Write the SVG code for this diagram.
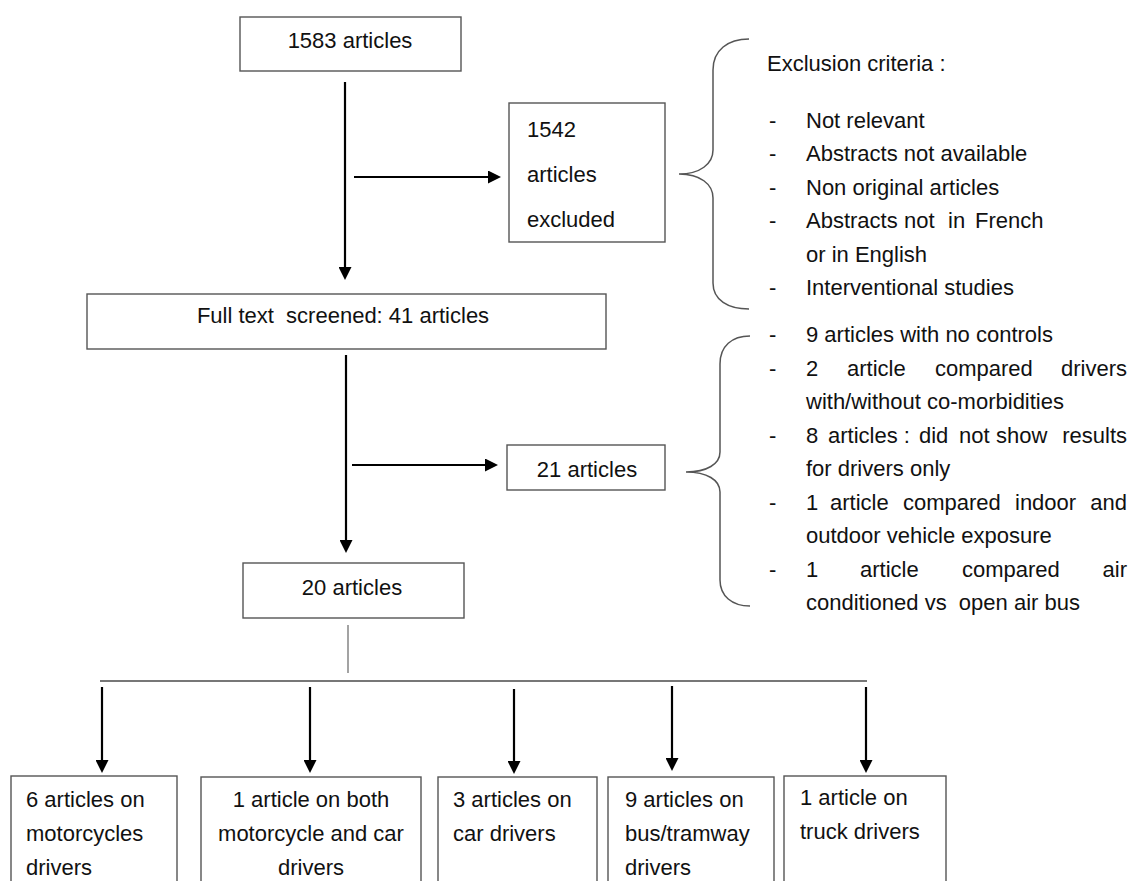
<svg xmlns="http://www.w3.org/2000/svg" width="1131" height="881" viewBox="0 0 1131 881">
<style>
text{font-family:"Liberation Sans",Arial,sans-serif;font-size:22px;fill:#111;white-space:pre}
.box{fill:#fff;stroke:#555;stroke-width:1.4}
.arr{stroke:#000;stroke-width:2.2;fill:none}
.thin{stroke:#666;stroke-width:1.2;fill:none}
.bus{stroke:#777;stroke-width:2;fill:none}
.brace{stroke:#555;stroke-width:1.5;fill:none}
.c{text-anchor:middle}
.e{text-anchor:end}
</style>
<defs>
<marker id="ah" markerUnits="userSpaceOnUse" markerWidth="13" markerHeight="13" refX="0" refY="6.5" orient="auto">
<path d="M0,0 L13,6.5 L0,13 z" fill="#000"/>
</marker>
</defs>
<rect width="1131" height="881" fill="#fff"/>
<g id="connectors">
<line class="arr" x1="345" y1="82" x2="345" y2="267" marker-end="url(#ah)"/>
<line class="arr" x1="354" y1="177" x2="488" y2="177" marker-end="url(#ah)"/>
<line class="arr" x1="346" y1="355" x2="346" y2="540" marker-end="url(#ah)"/>
<line class="arr" x1="352" y1="465" x2="485" y2="465" marker-end="url(#ah)"/>
<line class="thin" x1="348" y1="625" x2="348" y2="673"/>
<line class="bus" x1="100" y1="681" x2="867" y2="681"/>
<line class="arr" x1="102" y1="687" x2="102" y2="760" marker-end="url(#ah)"/>
<line class="arr" x1="310" y1="687" x2="310" y2="760" marker-end="url(#ah)"/>
<line class="arr" x1="514" y1="689" x2="514" y2="761" marker-end="url(#ah)"/>
<line class="arr" x1="672" y1="686" x2="672" y2="758" marker-end="url(#ah)"/>
<line class="arr" x1="866" y1="687" x2="866" y2="760" marker-end="url(#ah)"/>
</g>
<g id="n1583">
<rect class="box" x="240" y="17" width="221" height="54"/>
<text class="c" x="350" y="48">1583 articles</text>
</g>
<g id="n1542">
<rect class="box" x="509" y="103" width="156" height="139"/>
<text x="527" y="137">1542</text>
<text x="527" y="182">articles</text>
<text x="527" y="227">excluded</text>
</g>
<g id="criteria1">
<path class="brace" d="M749,39 C728,39 713,50 713,70 L713,150 C713,164 700,174 679,174 C700,174 713,184 713,198 L713,283 C713,300 728,309 749,309"/>
<text x="767" y="71">Exclusion criteria :</text>
<text x="769" y="127.5">-</text><text x="806" y="127.5">Not relevant</text>
<text x="769" y="161">-</text><text x="806" y="161">Abstracts not available</text>
<text x="769" y="194.5">-</text><text x="806" y="194.5">Non original articles</text>
<text x="769" y="228">-</text><text y="228"><tspan x="806">Abstracts</tspan><tspan x="904">not</tspan><tspan x="948">in</tspan><tspan x="975">French</tspan></text>
<text x="806" y="261.5">or in English</text>
<text x="769" y="295">-</text><text x="806" y="295">Interventional studies</text>
</g>
<g id="nfull">
<rect class="box" x="87" y="294" width="519" height="55"/>
<text class="c" x="343" y="323" xml:space="preserve">Full text  screened: 41 articles</text>
</g>
<g id="n21">
<rect class="box" x="507" y="445" width="158" height="45"/>
<text class="c" x="587" y="477">21 articles</text>
</g>
<g id="criteria2">
<path class="brace" d="M750,336 C732,336 720,346 720,364 L720,452 C720,464 707,472 686,472 C707,472 720,480 720,492 L720,580 C720,596 732,606 750,606"/>
<text x="769" y="342">-</text><text x="806" y="342">9 articles with no controls</text>
<text x="769" y="375.5">-</text><text y="375.5"><tspan x="806">2</tspan><tspan x="847">article</tspan><tspan x="935">compared</tspan></text><text class="e" x="1127" y="375.5">drivers</text>
<text x="806" y="409">with/without co-morbidities</text>
<text x="769" y="442.5">-</text><text y="442.5"><tspan x="806">8</tspan><tspan x="828">articles :</tspan><tspan x="919">did</tspan><tspan x="959">not</tspan><tspan x="996">show</tspan></text><text class="e" x="1127" y="442.5">results</text>
<text x="806" y="476">for drivers only</text>
<text x="769" y="509.5">-</text><text y="509.5"><tspan x="806">1</tspan><tspan x="830">article</tspan><tspan x="903">compared</tspan><tspan x="1015">indoor</tspan></text><text class="e" x="1127" y="509.5">and</text>
<text x="806" y="543">outdoor vehicle exposure</text>
<text x="769" y="576.5">-</text><text y="576.5"><tspan x="806">1</tspan><tspan x="860">article</tspan><tspan x="962">compared</tspan></text><text class="e" x="1127" y="576.5">air</text>
<text x="806" y="610" xml:space="preserve">conditioned vs  open air bus</text>
</g>
<g id="n20">
<rect class="box" x="243" y="563" width="221" height="55"/>
<text class="c" x="352" y="595">20 articles</text>
</g>
<g id="nmoto">
<rect class="box" x="11" y="776" width="166" height="120"/>
<text x="26" y="807">6 articles on</text>
<text x="26" y="841">motorcycles</text>
<text x="26" y="875">drivers</text>
</g>
<g id="nboth">
<rect class="box" x="201" y="777" width="220" height="120"/>
<text class="c" x="311" y="807">1 article on both</text>
<text class="c" x="311" y="841">motorcycle and car</text>
<text class="c" x="311" y="875">drivers</text>
</g>
<g id="ncar">
<rect class="box" x="438" y="777" width="159" height="120"/>
<text x="453" y="807">3 articles on</text>
<text x="453" y="841">car drivers</text>
</g>
<g id="nbus">
<rect class="box" x="608" y="777" width="166" height="120"/>
<text x="625" y="807">9 articles on</text>
<text x="625" y="841">bus/tramway</text>
<text x="625" y="875">drivers</text>
</g>
<g id="ntruck">
<rect class="box" x="784" y="776" width="162" height="120"/>
<text x="800" y="805">1 article on</text>
<text x="800" y="839">truck drivers</text>
</g>
</svg>
